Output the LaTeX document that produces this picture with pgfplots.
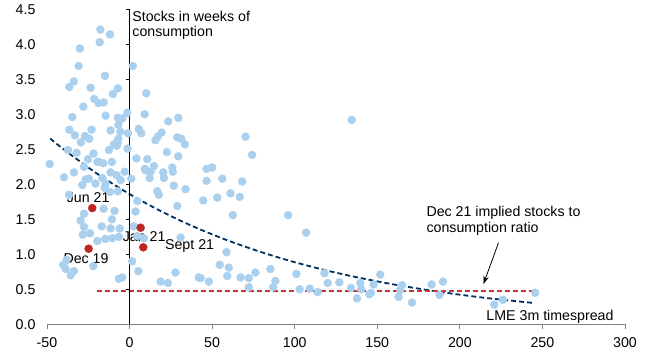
\documentclass[border=0pt]{standalone}
\usepackage{fontspec}
\setmainfont{Liberation Sans}
\usepackage{pgfplots}
\usepackage{pgfplotstable}
\pgfplotsset{compat=1.18}
\usetikzlibrary{arrows.meta}
\definecolor{ptblue}{RGB}{170,208,238}
\definecolor{ptred}{RGB}{190,38,38}
\definecolor{trendblue}{RGB}{0,48,96}
\definecolor{lred}{RGB}{200,55,55}
\definecolor{axgray}{RGB}{128,128,128}
\newcommand\cf{\fontsize{14.2bp}{17bp}\selectfont}
\pgfplotstableread{
x y
-17.7 4.21
-11.9 4.14
-18.1 4.03
-30.1 3.94
-30.9 3.69
-14.9 3.55
-33.7 3.47
-36.5 3.39
-23.6 3.38
-7.1 3.37
-10.1 3.29
-21.4 3.22
-18.8 3.16
-15.7 3.17
-28.0 3.11
-34.7 2.96
-14.5 2.98
-7.1 2.95
-1.4 3.02
-4.4 2.94
-6.8 2.85
-36.5 2.78
-23.0 2.78
-11.5 2.77
-5.6 2.75
-33.1 2.70
-27.0 2.69
-24.4 2.65
-29.5 2.60
-6.8 2.65
-1.0 2.73
-9.5 2.57
-12.5 2.49
-7.7 2.55
-1.2 2.51
-37.3 2.49
-32.1 2.45
-21.8 2.44
-48.4 2.29
-18.6 2.32
-10.7 2.32
-15.9 2.30
-39.7 2.10
-33.7 2.17
-27.6 2.25
-24.6 2.08
-26.6 2.07
-16.5 2.09
-14.5 2.01
-11.5 2.17
-7.9 2.13
-5.4 2.06
-3.0 2.18
-7.1 1.90
-11.9 1.89
-15.1 1.95
-20.6 2.01
-15.7 1.65
-9.1 1.62
-27.6 1.58
-10.7 1.50
-29.6 1.48
-16.9 1.40
-11.5 1.37
-6.0 1.37
-27.6 1.39
-24.0 1.30
-28.3 1.28
-19.5 1.19
-14.7 1.22
-10.5 1.23
-6.5 1.25
-38.1 0.92
-40.1 0.85
-38.7 0.79
-33.7 0.76
-22.0 0.83
-6.5 0.65
-4.4 0.67
-36.7 1.85
-35.7 0.70
2.0 3.69
10.1 3.30
9.1 3.00
23.4 2.90
29.5 2.95
5.6 2.79
7.1 2.73
19.4 2.74
17.1 2.68
15.7 2.63
28.9 2.67
31.3 2.65
33.5 2.57
22.6 2.46
4.1 2.37
10.7 2.36
29.5 2.40
14.7 2.26
25.8 2.24
50.0 2.24
46.6 2.22
9.3 2.22
1.0 2.08
9.7 2.20
12.7 2.18
12.1 2.09
20.4 2.17
20.8 2.09
26.2 2.18
46.6 2.05
56.1 2.08
26.8 1.98
16.8 1.90
17.7 1.85
33.9 1.93
44.6 1.77
53.1 1.81
4.7 1.76
28.9 1.69
3.6 1.61
2.6 1.40
30.9 1.24
4.7 1.26
1.6 0.90
5.3 0.76
27.8 0.74
18.8 0.61
23.2 0.59
41.9 0.67
48.0 0.61
54.6 0.85
59.1 0.69
70.2 2.68
74.2 2.42
68.2 2.04
61.1 1.87
66.7 1.82
62.5 1.56
96.0 1.56
106.9 1.31
134.5 2.92
58.7 1.03
60.1 0.81
67.2 0.67
72.2 0.66
76.2 0.74
72.2 0.53
85.3 0.79
88.3 0.62
86.9 0.53
101.0 0.72
103.0 0.50
109.1 0.51
113.9 0.46
118.0 0.73
120.0 0.59
127.0 0.60
134.1 0.52
137.7 0.37
139.7 0.59
140.2 0.50
145.2 0.43
146.2 0.45
147.8 0.57
151.8 0.71
162.9 0.39
163.9 0.49
165.0 0.56
171.0 0.31
182.9 0.57
189.8 0.61
187.7 0.42
220.8 0.28
226.1 0.35
245.6 0.45
43.0 0.66
-7.3 2.59
-19.5 2.32
8.7 1.23
-25.2 2.36
-28.6 1.99
}\blue
\pgfplotstableread{
x y
-22.6 1.66
-24.8 1.08
6.7 1.38
8.3 1.10
}\redpts
\pgfplotstableread{
x y
-48 2.653
-40 2.501
-20 2.157
0 1.860
20 1.604
40 1.383
60 1.193
80 1.029
100 0.887
120 0.765
140 0.660
160 0.569
180 0.491
200 0.423
220 0.365
245 0.304
}\trend
\begin{document}
\begin{tikzpicture}
\useasboundingbox (-47bp,-29.7bp) rectangle (603bp,324.3bp);
\begin{axis}[
  scale only axis, width=578bp, height=315bp,
  xmin=-50, xmax=300, ymin=0, ymax=4.5,
  clip=false,
  axis x line=bottom, axis y line=left,
  axis line style={-},
  x axis line style={axgray, line width=1pt},
  y axis line style={draw=none},
  xtick={-50,0,50,100,150,200,250,300},
  xticklabels={-50,0,50,100,150,200,250,300},
  ytick={0,0.5,1,1.5,2,2.5,3,3.5,4,4.5},
  yticklabels={0.0,0.5,1.0,1.5,2.0,2.5,3.0,3.5,4.0,4.5},
  tick align=outside,
  major tick length=5bp,
  xtick style={axgray, line width=0.8pt},
  ytick style={draw=none},
  tick label style={font=\cf, text=black},
  yticklabel style={xshift=-3bp},
  xticklabel style={yshift=-4.3bp},
]
\addplot[only marks, mark=*, mark size=4bp, color=ptblue, mark options={draw=none, fill=ptblue}] table {\blue};
\addplot[trendblue, line width=1.8bp, dash pattern=on 5bp off 3bp, smooth] table {\trend};
\addplot[lred, line width=1.8bp, dash pattern=on 5bp off 3bp] coordinates {(-20,0.48) (245,0.48)};
\addplot[only marks, mark=*, mark size=4bp, color=ptred, mark options={draw=none, fill=ptred}] table {\redpts};
\draw[black, line width=0.9pt] (axis cs:0,0) -- (axis cs:0,4.5);
\draw[black, line width=0.8pt] (axis cs:0,0.5) -- (axis cs:-2.4,0.5);
\draw[black, line width=0.8pt] (axis cs:0,1.0) -- (axis cs:-2.4,1.0);
\draw[black, line width=0.8pt] (axis cs:0,1.5) -- (axis cs:-2.4,1.5);
\draw[black, line width=0.8pt] (axis cs:0,2.0) -- (axis cs:-2.4,2.0);
\draw[black, line width=0.8pt] (axis cs:0,2.5) -- (axis cs:-2.4,2.5);
\draw[black, line width=0.8pt] (axis cs:0,3.0) -- (axis cs:-2.4,3.0);
\draw[black, line width=0.8pt] (axis cs:0,3.5) -- (axis cs:-2.4,3.5);
\draw[black, line width=0.8pt] (axis cs:0,4.0) -- (axis cs:-2.4,4.0);
\draw[black, line width=0.8pt] (axis cs:0,4.5) -- (axis cs:-2.4,4.5);
\node[anchor=base west, inner sep=0, font=\cf] at (axis cs:1.6,4.32) {Stocks in weeks of};
\node[anchor=base west, inner sep=0, font=\cf] at (axis cs:1.6,4.11) {consumption};
\node[anchor=base west, inner sep=0, font=\cf] at (axis cs:-38.1,1.743) {Jun 21};
\node[anchor=base west, inner sep=0, font=\cf] at (axis cs:-40.1,0.871) {Dec 19};
\node[anchor=base west, inner sep=0, font=\cf] at (axis cs:-4.2,1.18) {Jan 21};
\node[anchor=base west, inner sep=0, font=\cf] at (axis cs:21.4,1.07) {Sept 21};
\node[anchor=base west, inner sep=0, font=\cf] at (axis cs:179.7,1.547) {Dec 21 implied stocks to};
\node[anchor=base west, inner sep=0, font=\cf] at (axis cs:179.7,1.309) {consumption ratio};
\node[anchor=base west, inner sep=0, font=\cf] at (axis cs:216.0,0.051) {LME 3m timespread};
\draw[-{Stealth[length=8bp,width=5.5bp]}, line width=0.8pt] (axis cs:223.4,1.166) -- (axis cs:214.3,0.576);
\end{axis}
\end{tikzpicture}
\end{document}
